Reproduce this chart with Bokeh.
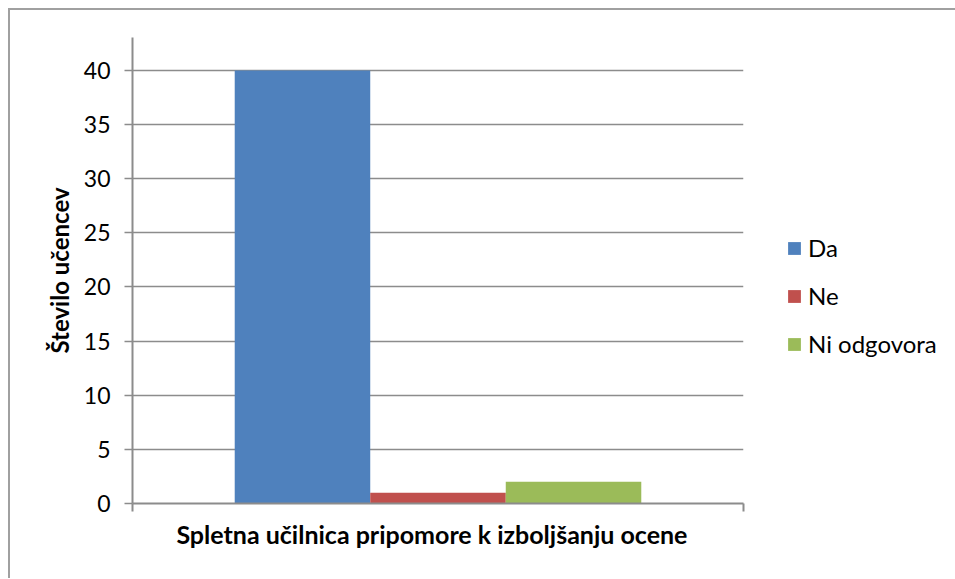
from bokeh.plotting import figure
from bokeh.models import Range1d, FixedTicker, Legend, LegendItem, ColumnDataSource
from bokeh.embed import file_html
from bokeh.resources import INLINE

category = "Spletna učilnica  pripomore k izboljšanju  ocene"
series = ["Da", "Ne", "Ni odgovora"]
values = [40, 1, 2]
colors = ["#4f81bd", "#c0504d", "#9bbb59"]
y_ticks = [0, 5, 10, 15, 20, 25, 30, 35, 40]
y_title = "Število učencev"

FONT = "Lato"
GRAY = "#8c8c8c"

p = figure(frame_width=611, frame_height=466, output_backend="svg", toolbar_location=None,
           x_range=Range1d(0, 1), y_range=Range1d(0, 43.04),
           min_border_left=122, min_border_top=27, min_border_right=20, min_border_bottom=75)
p.styles = {"border-left": "2px solid #a0a0a0", "border-top": "2px solid #a0a0a0",
            "margin-left": "8px", "margin-top": "8px"}
p.outline_line_color = None
p.background_fill_color = "white"
p.border_fill_color = "white"

bw = 0.2218
xs = [0.5 + (i - 1) * bw for i in range(len(series))]
items = []
for i, (s, v, c) in enumerate(zip(series, values, colors)):
    src = ColumnDataSource(dict(x=[xs[i]], top=[v]))
    r = p.vbar(x="x", top="top", width=bw, bottom=0, source=src, fill_color=c, line_color=None)
    items.append(LegendItem(label=s, renderers=[r]))

p.xgrid.visible = False
p.ygrid.ticker = FixedTicker(ticks=y_ticks)
p.ygrid.grid_line_color = GRAY
p.ygrid.grid_line_width = 1.3

ya = p.yaxis[0]
ya.ticker = FixedTicker(ticks=y_ticks)
ya.axis_line_color = GRAY
ya.axis_line_width = 2
ya.major_tick_line_color = GRAY
ya.major_tick_line_width = 1.3
ya.major_tick_out = 8
ya.major_tick_in = 0
ya.minor_tick_line_color = None
ya.major_label_text_font = FONT
ya.major_label_text_font_size = "23px"
ya.major_label_text_color = "black"
ya.major_label_standoff = 14
ya.axis_label = y_title
ya.axis_label_text_font = FONT
ya.axis_label_text_font_size = "24px"
ya.axis_label_text_font_style = "bold"
ya.axis_label_text_color = "black"
ya.axis_label_standoff = 7

xa = p.xaxis[0]
xa.ticker = FixedTicker(ticks=[0, 1])
xa.major_label_overrides = {0: "", 1: ""}
xa.major_label_text_font_size = "1px"
xa.axis_line_color = GRAY
xa.axis_line_width = 2
xa.major_tick_line_color = GRAY
xa.major_tick_line_width = 2
xa.major_tick_out = 8
xa.major_tick_in = 0
xa.minor_tick_line_color = None
xa.axis_label = category
xa.axis_label_text_font = FONT
xa.axis_label_text_font_size = "25px"
xa.axis_label_text_font_style = "bold"
xa.axis_label_text_color = "black"
xa.axis_label_standoff = 7

legend = Legend(items=items, location=(43, 145), orientation="vertical",
                glyph_width=16, glyph_height=16, label_standoff=6,
                label_height=20, spacing=19, padding=0, margin=0,
                border_line_color=None, background_fill_alpha=0,
                label_text_font=FONT, label_text_font_size="24px", label_text_color="black")
p.add_layout(legend, "right")

open("out.html", "w").write(file_html(p, INLINE))
